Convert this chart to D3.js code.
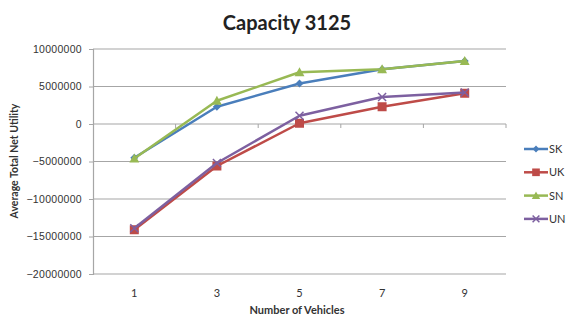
<!DOCTYPE html>
<html><head><meta charset="utf-8">
<script src="https://cdn.jsdelivr.net/npm/d3@7"></script>
<style>body{margin:0;background:#fff}svg{display:block;font-family:Lato,"Open Sans",sans-serif}</style>
</head><body><svg id="c" width="567" height="320"></svg>
<script>
const categories = ["1","3","5","7","9"];
const seriesNames = ["SK","UK","SN","UN"];
const SK = [-4500000, 2300000, 5400000, 7300000, 8400000];
const UK = [-14100000, -5600000, 100000, 2300000, 4100000];
const SN = [-4600000, 3100000, 6900000, 7300000, 8400000];
const UN = [-13900000, -5200000, 1100000, 3600000, 4200000];
const yTicks = [10000000, 5000000, 0, -5000000, -10000000, -15000000, -20000000];
const colors = ["#4a7ebb","#be4b48","#98b954","#7d60a0"];
const shapes = ["diamond","square","triangle","x"];
const seriesData = [SK, UK, SN, UN];

const svg = d3.select("#c");
const x = d3.scaleBand().domain(categories).range([93, 506]);
const y = d3.scaleLinear().domain([-20000000, 10000000]).range([274, 49]);

// gridlines
svg.append("g").selectAll("line").data(yTicks).join("line")
  .attr("x1", 93).attr("x2", 506).attr("y1", d => y(d)).attr("y2", d => y(d))
  .attr("stroke", "#a6a6a6").attr("stroke-width", 1.2);

// y axis
const ya = svg.append("g").attr("transform", "translate(93,0)")
  .call(d3.axisLeft(y).tickValues(yTicks).tickSize(4).tickPadding(7).tickFormat(d3.format("d")));
ya.select(".domain").attr("stroke", "#a6a6a6").attr("stroke-width", 1.2);
ya.selectAll(".tick line").attr("stroke", "#a6a6a6");
ya.selectAll("text").attr("font-size", 10.5).attr("fill", "#333").attr("letter-spacing", 0.3);

// x axis at zero with boundary ticks
const xa = svg.append("g").attr("transform", `translate(0,${y(0)})`)
  .call(d3.axisBottom(x).tickSize(0).tickFormat(""));
xa.select(".domain").remove();
xa.selectAll("line.bt").data(categories).join("line").attr("class","bt")
  .attr("x1", d => x(d) + x.bandwidth()).attr("x2", d => x(d) + x.bandwidth())
  .attr("y1", 0).attr("y2", 4).attr("stroke", "#a6a6a6");

// x tick labels at bottom
svg.append("g").selectAll("text").data(categories).join("text")
  .attr("x", d => x(d) + x.bandwidth() / 2).attr("y", 297)
  .attr("text-anchor", "middle").attr("font-size", 11).attr("fill", "#333").text(d => d);

function marker(g, shape, color, cx, cy, s) {
  if (shape === "diamond") {
    g.append("path").attr("d", `M${cx},${cy-s}L${cx+s},${cy}L${cx},${cy+s}L${cx-s},${cy}Z`).attr("fill", color);
  } else if (shape === "square") {
    g.append("rect").attr("x", cx - s).attr("y", cy - s).attr("width", 2*s).attr("height", 2*s).attr("fill", color);
  } else if (shape === "triangle") {
    g.append("path").attr("d", `M${cx},${cy-s*1.1}L${cx+s*1.1},${cy+s*0.9}L${cx-s*1.1},${cy+s*0.9}Z`).attr("fill", color);
  } else {
    g.append("path").attr("d", `M${cx-s},${cy-s}L${cx+s},${cy+s}M${cx-s},${cy+s}L${cx+s},${cy-s}`).attr("stroke", color).attr("stroke-width", 1.5);
  }
}
const msize = [4, 4.5, 4.5, 4];

const line = d3.line().x((d, i) => x(categories[i]) + x.bandwidth() / 2).y(d => y(d));
seriesData.forEach((vals, k) => {
  const g = svg.append("g");
  g.append("path").attr("d", line(vals)).attr("fill", "none")
    .attr("stroke", colors[k]).attr("stroke-width", 2.5).attr("stroke-linejoin", "round");
  vals.forEach((v, i) => marker(g, shapes[k], colors[k], x(categories[i]) + x.bandwidth() / 2, y(v), msize[k]));
});

// legend
const lg = svg.append("g");
seriesNames.forEach((n, k) => {
  const ly = 149 + k * 23.3;
  lg.append("line").attr("x1", 524).attr("x2", 548).attr("y1", ly).attr("y2", ly)
    .attr("stroke", colors[k]).attr("stroke-width", 2.5);
  marker(lg, shapes[k], colors[k], 536, ly, msize[k] * 0.85);
  lg.append("text").attr("x", 549).attr("y", ly + 4).attr("font-size", 11).attr("fill", "#333").text(n);
});

// titles
svg.append("text").attr("x", 287).attr("y", 30).attr("text-anchor", "middle")
  .attr("font-size", 20).attr("font-weight", "bold").attr("fill", "#222").text("Capacity 3125");
svg.append("text").attr("transform", "translate(18,161) rotate(-90)").attr("text-anchor", "middle")
  .attr("font-size", 10.5).attr("font-weight", "bold").attr("fill", "#333").text("Average Total Net Utility");
svg.append("text").attr("x", 297).attr("y", 314).attr("text-anchor", "middle")
  .attr("font-size", 11).attr("font-weight", "bold").attr("fill", "#333").text("Number of Vehicles");
</script></body></html>
